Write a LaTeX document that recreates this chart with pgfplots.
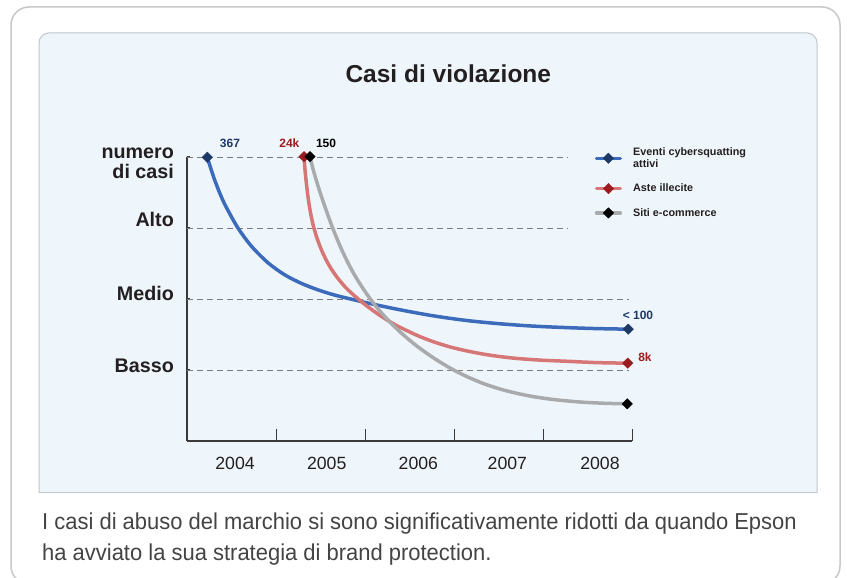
\documentclass[border=0pt]{standalone}
\usepackage{fontspec}
\setmainfont{Liberation Sans}
\usepackage{graphicx}
\usepackage{pgfplots}
\pgfplotsset{compat=1.18}
\definecolor{panel}{HTML}{EFF6FB}
\definecolor{panelborder}{HTML}{BFC6CC}
\definecolor{outerc}{HTML}{C8C8C8}
\definecolor{txt}{HTML}{231F20}
\definecolor{captxt}{HTML}{444444}
\definecolor{axisc}{HTML}{3A3A3A}
\definecolor{dashc}{HTML}{7D7D7D}
\definecolor{blueline}{RGB}{59,107,186}
\definecolor{navy}{RGB}{30,56,104}
\definecolor{redline}{RGB}{215,118,118}
\definecolor{darkred}{RGB}{155,28,32}
\definecolor{grayline}{RGB}{168,170,172}
\begin{document}
\begin{tikzpicture}
\begin{scope}[x=1pt,y=1pt]
\useasboundingbox (0,0) rectangle (847,578);
\fill[white] (0,0) rectangle (847,578);
\draw[outerc, line width=1.5pt, rounded corners=18pt] (11,571) rectangle (840,-6);
\fill[panel, rounded corners=10pt] (39,545) rectangle (817,300);
\fill[panel] (39,320) rectangle (817,85);
\draw[panelborder, line width=1pt, rounded corners=10pt] (39,85) -- (39,545) -- (817,545) -- (817,85);
\draw[panelborder, line width=1pt] (39,85) -- (817,85);
\node[font=\bfseries\fontsize{24.5}{28}\selectfont, text=txt, anchor=base, inner sep=0pt] at (448.3,495.6) {Casi di violazione};
\begin{scope}[every node/.style={font=\bfseries\fontsize{19.7}{22}\selectfont, text=txt, anchor=base east, inner sep=0pt}]
\node at (174,419.7) {numero};
\node at (174,399.7) {di casi};
\node at (174,351.3) {Alto};
\node at (174,277.3) {Medio};
\node at (174,205.3) {Basso};
\end{scope}
\begin{scope}[every node/.style={font=\fontsize{23}{26}\selectfont, text=captxt, anchor=base west, inner sep=0pt}]
\node at (42,48) {\scalebox{0.955}[1]{I casi di abuso del marchio si sono significativamente ridotti da quando Epson}};
\node at (42,17) {\scalebox{0.955}[1]{ha avviato la sua strategia di brand protection.}};
\end{scope}
\end{scope}
\begin{axis}[
  at={(187pt,137pt)}, anchor=south west,
  width=445pt, height=284pt, scale only axis,
  xmin=2003.5, xmax=2008.5, ymin=0, ymax=4,
  axis x line=bottom, axis y line=left,
  axis line style={-, draw=axisc, line width=1.2pt},
  clip=false,
  xtick={2004.04,2005.07,2006.10,2007.10,2008.14},
  xticklabels={2004,2005,2006,2007,2008},
  minor xtick={2004.5,2005.5,2006.5,2007.5,2008.5},
  every major x tick/.append style={draw=none},
  every minor x tick/.append style={draw=axisc, line width=1pt},
  minor tick length=12pt,
  major tick length=3.5pt,
  tick align=inside,
  ytick={1,2,3,4},
  yticklabels={,,,},
  every major y tick/.append style={draw=axisc, line width=1pt},
  xticklabel style={font=\fontsize{17.7}{20}\selectfont, text=txt, anchor=base, yshift=-28.7pt, inner sep=0pt},
  /pgf/number format/assume math mode=true,
  legend style={at={(axis cs:2008.08,4.163)}, anchor=north west, draw=none, fill=none, inner sep=0pt,
    font=\bfseries\fontsize{10.8}{12}\selectfont, text=txt,
    nodes={align=left, inner xsep=0pt, inner ysep=2pt},
    row sep=11pt},
  legend cell align=left,
  legend image code/.code={%
    \draw[#1, mark indices={2}, line width=3.2pt, line cap=round] plot coordinates {(0pt,0pt)(12pt,0pt)(24pt,0pt)};
    \path (35pt,0pt);},
  every axis plot/.append style={line cap=round, line join=round},
]
% dashed level lines
\draw[dashc, line width=0.9pt, dash pattern=on 6pt off 4pt] (axis cs:2003.5,4) -- (axis cs:2007.77,4);
\draw[dashc, line width=0.9pt, dash pattern=on 6pt off 4pt] (axis cs:2003.5,3) -- (axis cs:2007.77,3);
\draw[dashc, line width=0.9pt, dash pattern=on 6pt off 4pt] (axis cs:2003.5,2) -- (axis cs:2008.47,2);
\draw[dashc, line width=0.9pt, dash pattern=on 6pt off 4pt] (axis cs:2003.5,1) -- (axis cs:2008.47,1);

\addplot[blueline, line width=3.5pt, smooth, mark=square*, mark size=3.7pt,
  mark options={solid, rotate=45, fill=navy, draw=navy, line width=0.4pt}, mark indices={1,23}]
  coordinates {
  (2003.728,3.996) (2003.764,3.852) (2003.803,3.704) (2003.852,3.542) (2003.904,3.387)
  (2003.964,3.239) (2004.076,2.993) (2004.227,2.739) (2004.413,2.507) (2004.601,2.338)
  (2004.789,2.218) (2004.975,2.127) (2005.163,2.054) (2005.351,1.996) (2005.575,1.931)
  (2005.893,1.848) (2006.267,1.763) (2006.643,1.697) (2007.017,1.651) (2007.391,1.618)
  (2007.766,1.597) (2008.107,1.583) (2008.458,1.575)
  };
\addlegendentry{Eventi cybersquatting\\attivi}
\addplot[redline, line width=3.5pt, smooth, mark=square*, mark size=3.7pt,
  mark options={solid, rotate=45, fill=darkred, draw=darkred, line width=0.4pt}, mark indices={1,29}]
  coordinates {
  (2004.815,4.004) (2004.826,3.821) (2004.843,3.610) (2004.863,3.407) (2004.888,3.215)
  (2004.919,3.034) (2004.961,2.856) (2005.013,2.685) (2005.067,2.542) (2005.126,2.414)
  (2005.197,2.289) (2005.275,2.173) (2005.348,2.083) (2005.425,1.999) (2005.534,1.889)
  (2005.649,1.785) (2005.758,1.697) (2005.874,1.614) (2006.081,1.490) (2006.264,1.400)
  (2006.455,1.325) (2006.643,1.269) (2006.829,1.224) (2007.017,1.189) (2007.204,1.163)
  (2007.485,1.138) (2007.766,1.123) (2008.103,1.104) (2008.452,1.096)
  };
\addlegendentry{Aste illecite}
\addplot[grayline, line width=3.5pt, smooth, mark=square*, mark size=3.7pt,
  mark options={solid, rotate=45, fill=black, draw=black, line width=0.4pt}, mark indices={1,27}]
  coordinates {
  (2004.882,4.004) (2004.919,3.818) (2004.966,3.617) (2005.013,3.434) (2005.079,3.197)
  (2005.144,2.976) (2005.225,2.732) (2005.312,2.501) (2005.404,2.293) (2005.500,2.106)
  (2005.593,1.944) (2005.688,1.800) (2005.809,1.639) (2005.930,1.496) (2006.081,1.339)
  (2006.264,1.175) (2006.455,1.028) (2006.643,0.908) (2006.829,0.810) (2007.017,0.732)
  (2007.204,0.672) (2007.391,0.625) (2007.579,0.590) (2007.766,0.565) (2007.953,0.546)
  (2008.197,0.531) (2008.447,0.523)
  };
\addlegendentry{Siti e-commerce}

\begin{scope}[every node/.style={font=\bfseries\fontsize{12}{14}\selectfont, inner sep=0pt}]
\node[text=navy] at (axis cs:2003.983,4.195) {367};
\node[text=darkred] at (axis cs:2004.650,4.195) {24k};
\node[text=black] at (axis cs:2005.062,4.195) {150};
\node[text=navy] at (axis cs:2008.567,1.775) {< 100};
\node[text=darkred] at (axis cs:2008.646,1.185) {8k};
\end{scope}
\end{axis}
\end{tikzpicture}
\end{document}
